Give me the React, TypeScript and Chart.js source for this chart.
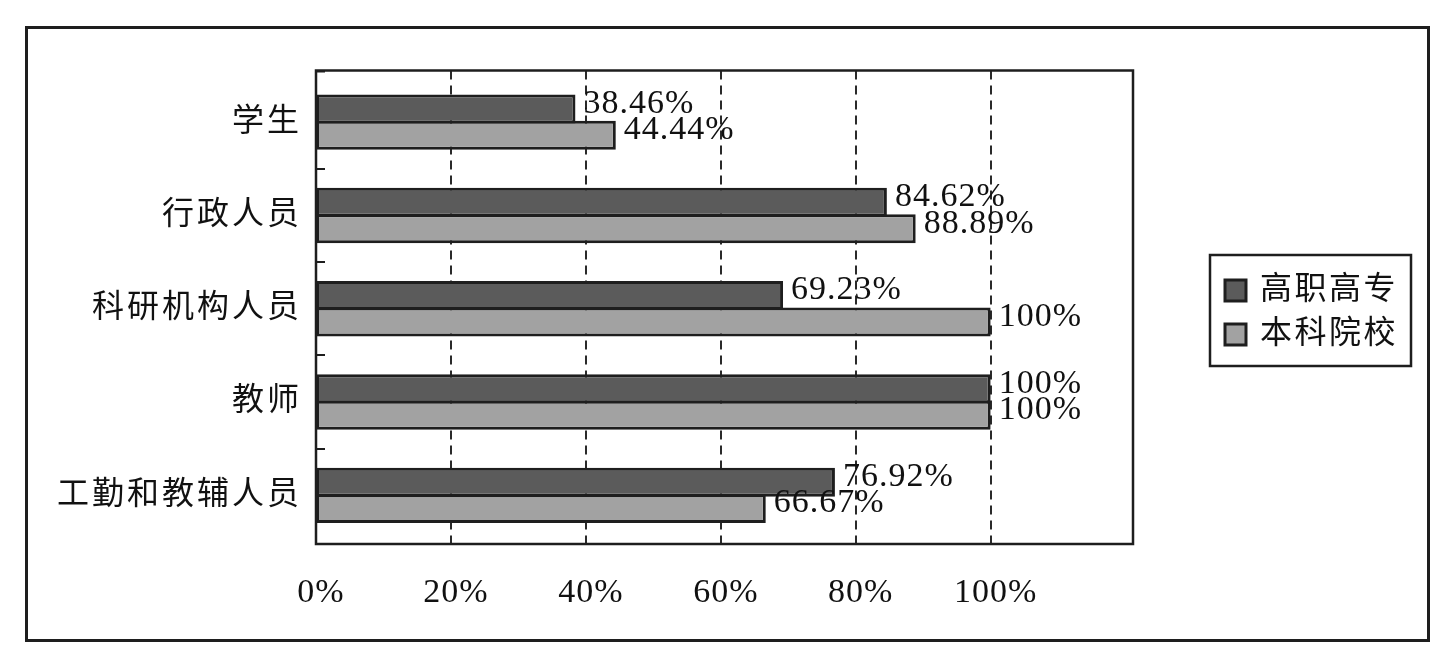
import React, { useEffect, useRef } from "react";
import { Chart, registerables } from "chart.js";

Chart.register(...registerables);

const CATEGORIES = ["学生", "行政人员", "科研机构人员", "教师", "工勤和教辅人员"];
const SERIES_NAMES = ["高职高专", "本科院校"];
const VOCATIONAL = [38.46, 84.62, 69.23, 100, 76.92];
const UNDERGRAD = [44.44, 88.89, 100, 100, 66.67];
const TICK_VALUES = [0, 20, 40, 60, 80, 100];
const AXIS_MAX = 121.1;

const FONT_FAMILY = "'Liberation Serif', 'Noto Sans CJK SC', serif";
const DARK = "#5b5b5b";
const LIGHT = "#a2a2a2";
const LINE = "#1e1e1e";

const PLOT_TOP = 70.5;
const PLOT_BOTTOM = 544;

const fmt = (v: number) => (Number.isInteger(v) ? `${v}%` : `${v.toFixed(2)}%`);

const decorPlugin = {
  id: "decor",
  beforeDraw(chart: any) {
    const ctx = chart.ctx;
    ctx.save();
    ctx.fillStyle = "#fff";
    ctx.fillRect(0, 0, chart.width, chart.height);
    ctx.restore();
    // spacing for the CJK category labels (y scale, drawn before datasets)
    ctx.letterSpacing = "3px";
  },
  beforeDatasetsDraw(chart: any) {
    const ctx = chart.ctx;
    const xs = chart.scales.x;
    ctx.save();
    ctx.strokeStyle = "#2a2a2a";
    ctx.lineWidth = 2;
    ctx.setLineDash([9, 6]);
    TICK_VALUES.filter((v) => v > 0).forEach((v) => {
      const x = Math.round(xs.getPixelForValue(v));
      ctx.beginPath();
      ctx.moveTo(x, PLOT_TOP);
      ctx.lineTo(x, PLOT_BOTTOM);
      ctx.stroke();
    });
    ctx.restore();
  },
  afterDatasetsDraw(chart: any) {
    const ctx = chart.ctx;
    ctx.save();
    ctx.letterSpacing = "1px";
    ctx.font = `34px ${FONT_FAMILY}`;
    ctx.fillStyle = "#111";
    ctx.textAlign = "left";
    ctx.textBaseline = "middle";
    chart.data.datasets.forEach((ds: any, di: number) => {
      const meta = chart.getDatasetMeta(di);
      meta.data.forEach((el: any, i: number) => {
        ctx.fillText(fmt(ds.data[i]), el.x + 8, el.y - 5);
      });
    });
    ctx.restore();
    // spacing for the percentage tick labels (x scale labels, drawn after datasets)
    ctx.letterSpacing = "1px";
  },
  afterDraw(chart: any) {
    const ctx = chart.ctx;
    const a = chart.chartArea;
    ctx.save();
    ctx.strokeStyle = LINE;
    // plot box
    ctx.lineWidth = 2.5;
    ctx.strokeRect(a.left, PLOT_TOP, a.right - a.left, PLOT_BOTTOM - PLOT_TOP);
    // category boundary ticks on the y axis (inward)
    const ys = chart.scales.y;
    const band = (a.bottom - a.top) / CATEGORIES.length;
    ctx.lineWidth = 2;
    for (let i = 0; i < CATEGORIES.length; i++) {
      const y = i === 0 ? PLOT_TOP + 1 : Math.round(ys.getPixelForValue(i) - band / 2);
      ctx.beginPath();
      ctx.moveTo(a.left, y);
      ctx.lineTo(a.left + 9, y);
      ctx.stroke();
    }
    // outer frame
    ctx.lineWidth = 3;
    ctx.strokeRect(26.5, 27.5, 1402, 613);
    // legend
    const lx = 1210, ly = 255, lw = 201, lh = 111;
    ctx.lineWidth = 2.5;
    ctx.strokeRect(lx, ly, lw, lh);
    ctx.font = `32px ${FONT_FAMILY}`;
    ctx.letterSpacing = "2.5px";
    ctx.textBaseline = "middle";
    ctx.textAlign = "left";
    chart.data.datasets.forEach((ds: any, di: number) => {
      const cy = ly + 36 + di * 44;
      ctx.fillStyle = ds.backgroundColor;
      ctx.fillRect(lx + 15, cy - 11, 21, 21);
      ctx.lineWidth = 3;
      ctx.strokeStyle = LINE;
      ctx.strokeRect(lx + 15, cy - 11, 21, 21);
      ctx.fillStyle = "#111";
      ctx.fillText(ds.label, lx + 50, cy);
    });
    ctx.restore();
    ctx.letterSpacing = "0px";
  },
};

export default function App() {
  const ref = useRef<HTMLCanvasElement>(null);
  useEffect(() => {
    if (!ref.current) return;
    const chart = new Chart(ref.current, {
      type: "bar",
      data: {
        labels: CATEGORIES,
        datasets: [
          {
            label: SERIES_NAMES[0],
            data: VOCATIONAL,
            backgroundColor: DARK,
            borderColor: LINE,
            borderWidth: 3,
            borderSkipped: false,
            categoryPercentage: 0.565,
            barPercentage: 1.1,
          },
          {
            label: SERIES_NAMES[1],
            data: UNDERGRAD,
            backgroundColor: LIGHT,
            borderColor: LINE,
            borderWidth: 3,
            borderSkipped: false,
            categoryPercentage: 0.565,
            barPercentage: 1.1,
          },
        ],
      },
      options: {
        indexAxis: "y",
        responsive: false,
        animation: false,
        events: [],
        layout: { padding: { left: 0, top: 75.5, right: 321, bottom: 0 } },
        plugins: {
          legend: { display: false },
          tooltip: { enabled: false },
          title: { display: false },
        },
        scales: {
          x: {
            type: "linear",
            min: 0,
            max: AXIS_MAX,
            afterBuildTicks: (s: any) => {
              s.ticks = TICK_VALUES.map((v) => ({ value: v }));
            },
            afterFit: (s: any) => {
              s.height = 121;
            },
            border: { display: false },
            grid: { display: false, drawTicks: false },
            ticks: {
              z: 1,
              padding: 31,
              labelOffset: 5,
              color: "#111",
              font: { family: FONT_FAMILY, size: 34 },
              callback: (v: any) => `${v}%`,
            },
          },
          y: {
            type: "category",
            afterFit: (s: any) => {
              s.width = 316;
            },
            border: { display: false },
            grid: { display: false, drawTicks: false },
            ticks: {
              padding: 14,
              color: "#111",
              font: { family: FONT_FAMILY, size: 32 },
            },
          },
        },
      } as any,
      plugins: [decorPlugin],
    });
    return () => chart.destroy();
  }, []);
  return (
    <div style={{ position: "fixed", left: 0, top: 0, width: 1454, height: 663, background: "#fff" }}>
      <canvas ref={ref} width={1454} height={663} />
    </div>
  );
}
